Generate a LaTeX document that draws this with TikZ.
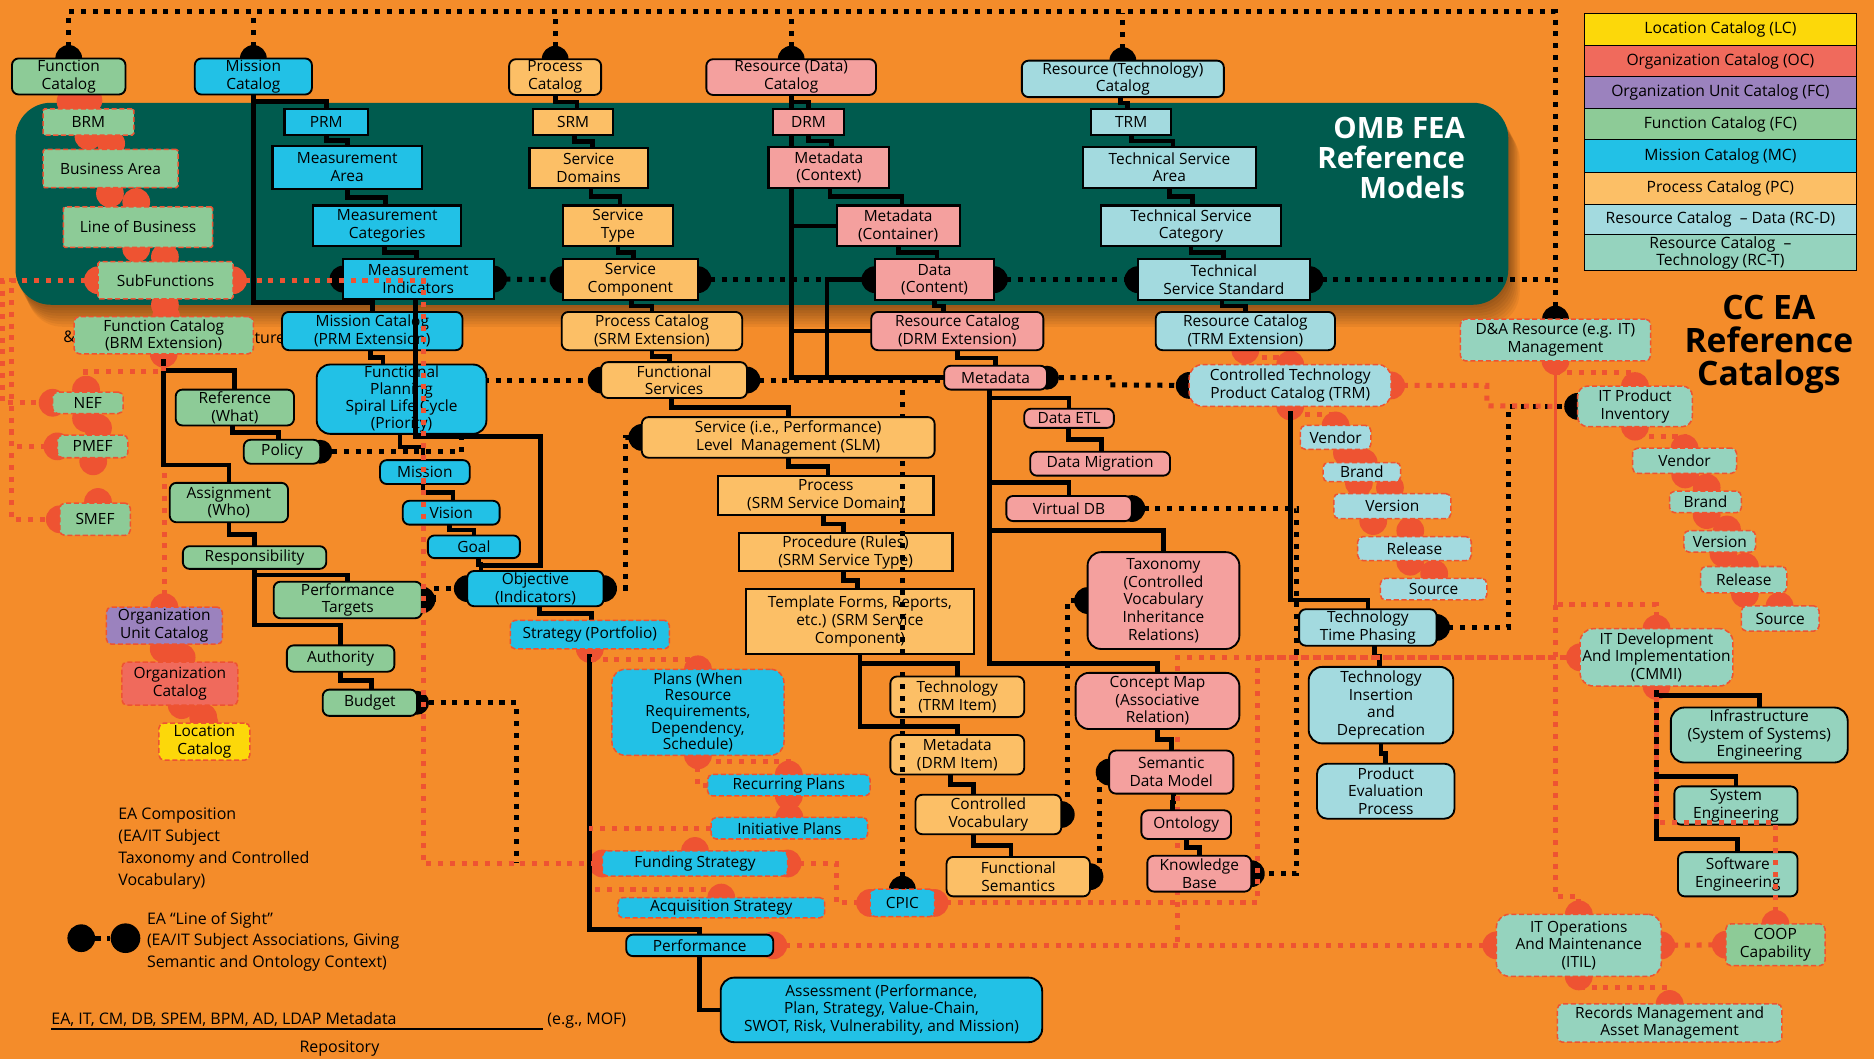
\documentclass[tikz,border=0pt]{standalone}
\usepackage{fontspec}
\setmainfont{Open Sans}
\usetikzlibrary{calc}

\definecolor{bgor}{HTML}{F48C2A}
\definecolor{cteal}{HTML}{005B4E}
\definecolor{cred}{HTML}{EE5332}
\definecolor{cfg}{HTML}{8DCB97}
\definecolor{cmb}{HTML}{22C1E6}
\definecolor{cpo}{HTML}{FCBF66}
\definecolor{cdp}{HTML}{F4A09E}
\definecolor{ctc}{HTML}{A3DADF}
\definecolor{cmt}{HTML}{95D3BE}
\definecolor{cye}{HTML}{FCD80A}
\definecolor{coc}{HTML}{F06A5C}
\definecolor{cpu}{HTML}{9B82BE}

\pgfdeclarelayer{bg}
\pgfdeclarelayer{links}
\pgfdeclarelayer{over}
\pgfsetlayers{bg,links,main,over}

\tikzset{
  base/.style={inner sep=1pt, outer sep=0pt, align=center, text=black,
    font=\fontsize{9.2}{10.5}\selectfont},
  fea/.style={base, draw=black, line width=1.3pt},
  cat/.style={base, draw=black, line width=1.1pt, rounded corners=4pt},
  dsh/.style={base, draw=cred, line width=0.9pt, dash pattern=on 3pt off 1.6pt, rounded corners=3pt},
  legrow/.style={base, draw=black, line width=0.6pt, minimum width=5.675cm,
    font=\fontsize{9.3}{10}\selectfont},
  tl/.style={line width=2.8pt, black},
  bd/.style={line width=3pt, black, dash pattern=on 3pt off 4pt},
  rd/.style={line width=3pt, cred, dash pattern=on 3pt off 4pt},
  note/.style={inner sep=0pt, outer sep=0pt, align=left, text=black,
    font=\fontsize{9.5}{13}\selectfont},
}

% box from its corner pixels: [opts]{name}{style}{x1}{y1}{x2}{y2}{text}
\newcommand\mkbox[8][]{\node[#3,minimum width={(#6-#4)*0.025cm},minimum height={(#7-#5)*0.025cm},#1] (#2) at ({(#4+#6)/2},{(#5+#7)/2}) {#8};}
% stepped link from a fraction of the lower edge of one box to a fraction of the upper edge of another
\newcommand\stepline[4]{%
  \coordinate (sA) at ($(#1.south west)!#2!(#1.south east)$);
  \coordinate (sB) at ($(#3.north west)!#4!(#3.north east)$);
  \draw[tl] (sA) |- ($(sA)!0.5!(sB)$) -| (sB);}
\newcommand\redblob[1]{\fill[cred] (#1) circle[radius=0.29cm];}
\newcommand\blackdisc[1]{\fill[black] (#1) circle[radius=0.28cm];}

\begin{document}
\begin{tikzpicture}[x=0.025cm,y=-0.025cm]
\useasboundingbox (0,0) rectangle (1568,886);

\begin{pgfonlayer}{bg}
  \fill[bgor] (0,0) rectangle (1568,886);
  \foreach \k in {1,...,8}
    {\fill[black, opacity=0.05, rounded corners=21pt] ({13+1.2*\k},{86+2.3*\k}) rectangle ({1262+1.2*\k},{255+2.3*\k});}
  \fill[cteal, rounded corners=21pt] (13,86) rectangle (1262,255);
\end{pgfonlayer}

% ---------- titles ----------
\node[anchor=east, align=right, text=white, inner sep=0pt,
  font=\fontsize{17.5}{18}\selectfont\bfseries] (omb) at (1226,132) {OMB FEA\\Reference\\Models};
\node[align=center, text=black, inner sep=0pt,
  font=\fontsize{20}{19.5}\selectfont\bfseries] (ccea) at (1480,288) {CC EA\\Reference\\Catalogs};

% ---------- colour key ----------
\foreach \ya/\yb/\cl/\tx [count=\i] in {
  11/38/cye/{Location Catalog (LC)},
  38/64/coc/{Organization Catalog (OC)},
  64/91/cpu/{Organization Unit Catalog (FC)},
  91/117/cfg/{Function Catalog (FC)},
  117/144/cmb/{Mission Catalog (MC)},
  144/171/cpo/{Process Catalog (PC)},
  171/197/ctc/{Resource Catalog~ -- Data (RC-D)},
  197/226/cmt/{Resource Catalog~ --\\Technology (RC-T)}}
  {\node[legrow, fill=\cl, minimum height={(\yb-\ya)*0.025cm}] (leg\i) at (1439.5,{(\ya+\yb)/2}) {\tx};}

% ---------- catalogs on top ----------
\mkbox{fc}{cat,fill=cfg}{10}{50}{105}{78}{Function\\Catalog}
\mkbox{mc}{cat,fill=cmb}{163}{50}{261}{78}{Mission\\Catalog}
\mkbox{pc}{cat,fill=cpo}{426}{50}{503}{79}{Process\\Catalog}
\mkbox{rdc}{cat,fill=cdp}{591}{50}{733}{79}{Resource (Data)\\Catalog}
\mkbox{rtc}{cat,fill=ctc}{855}{51}{1024}{81}{Resource (Technology)\\Catalog}

% ---------- reference models ----------
\mkbox[rounded corners=1pt]{brm}{dsh,fill=cfg}{36}{91}{112}{113}{BRM}
\mkbox[rounded corners=1pt]{ba}{dsh,fill=cfg}{36}{125}{149}{157}{Business Area}
\mkbox[rounded corners=1pt]{lob}{dsh,fill=cfg}{53}{173}{178}{207}{Line of Business}
\mkbox[rounded corners=1pt]{sf}{dsh,fill=cfg}{82}{219}{195}{250}{SubFunctions}
\mkbox{fcx}{dsh,fill=cfg}{62}{265}{212}{296}{Function Catalog\\(BRM Extension)}

\mkbox{prm}{fea,fill=cmb}{238}{91}{308}{113}{PRM}
\mkbox{ma}{fea,fill=cmb}{228}{122}{353}{158}{Measurement\\Area}
\mkbox{mcat}{fea,fill=cmb}{262}{172}{386}{206}{Measurement\\Categories}
\mkbox{mi}{fea,fill=cmb}{287}{217}{413}{250}{Measurement\\Indicators}
\mkbox{mcx}{cat,fill=cmb}{236}{261}{387}{293}{Mission Catalog\\(PRM Extension)}

\mkbox{srm}{fea,fill=cpo}{446}{91}{513}{113}{SRM}
\mkbox{sd}{fea,fill=cpo}{443}{124}{542}{157}{Service\\Domains}
\mkbox{st}{fea,fill=cpo}{471}{172}{563}{206}{Service\\Type}
\mkbox{sc}{fea,fill=cpo}{471}{217}{584}{251}{Service\\Component}
\mkbox{pcx}{cat,fill=cpo}{470}{261}{621}{293}{Process Catalog\\(SRM Extension)}

\mkbox{drm}{fea,fill=cdp}{647}{91}{706}{113}{DRM}
\mkbox{mdc}{fea,fill=cdp}{643}{123}{744}{157}{Metadata\\(Context)}
\mkbox{mdk}{fea,fill=cdp}{700}{172}{803}{206}{Metadata\\(Container)}
\mkbox{dc}{fea,fill=cdp}{732}{217}{832}{251}{Data\\(Content)}
\mkbox{rcx}{cat,fill=cdp}{729}{261}{873}{293}{Resource Catalog\\(DRM Extension)}

\mkbox{trm}{fea,fill=ctc}{913}{91}{980}{113}{TRM}
\mkbox{tsa}{fea,fill=ctc}{906}{123}{1051}{157}{Technical Service\\Area}
\mkbox{tsc}{fea,fill=ctc}{921}{172}{1072}{206}{Technical Service\\Category}
\mkbox{tss}{fea,fill=ctc}{952}{217}{1096}{251}{Technical\\Service Standard}
\mkbox{tcx}{cat,fill=ctc}{967}{261}{1117}{293}{Resource Catalog\\(TRM Extension)}

% ---------- function / organization side ----------
\mkbox{nef}{dsh,fill=cfg}{44}{328}{103}{346}{NEF}
\mkbox{pmef}{dsh,fill=cfg}{48}{364}{107}{383}{PMEF}
\mkbox{smef}{dsh,fill=cfg}{50}{421}{109}{448}{SMEF}
\mkbox{ref}{cat,fill=cfg}{147}{326}{246}{356}{Reference\\(What)}
\mkbox{pol}{cat,fill=cfg}{204}{368}{268}{388}{Policy}
\mkbox{asg}{cat,fill=cfg}{142}{404}{241}{437}{Assignment\\(Who)}
\mkbox{resp}{cat,fill=cfg}{153}{457}{273}{476}{Responsibility}
\mkbox{pt}{cat,fill=cfg}{229}{488}{353}{516}{Performance\\Targets}
\mkbox{auth}{cat,fill=cfg}{240}{540}{330}{562}{Authority}
\mkbox{bud}{cat,fill=cfg}{270}{577}{349}{599}{Budget}
\mkbox{ouc}{dsh,fill=cpu}{89}{508}{186}{539}{Organization\\Unit Catalog}
\mkbox{oc}{dsh,fill=coc}{102}{554}{199}{590}{Organization\\Catalog}
\mkbox{lc}{dsh,fill=cye}{133}{605}{209}{636}{Location\\Catalog}

% ---------- mission side ----------
\mkbox[rounded corners=8pt,font=\fontsize{9.2}{10}\selectfont]{fp}{cat,fill=cmb}{265}{305}{407}{363}{Functional\\Planning\\Spiral Life Cycle\\(Priority)}
\mkbox{mis}{cat,fill=cmb}{318}{385}{393}{405}{Mission}
\mkbox{vis}{cat,fill=cmb}{337}{419}{418}{439}{Vision}
\mkbox{goal}{cat,fill=cmb}{358}{448}{435}{467}{Goal}
\mkbox{obj}{cat,fill=cmb}{391}{478}{505}{507}{Objective\\(Indicators)}
\mkbox{strat}{dsh,fill=cmb}{427}{519}{560}{543}{Strategy (Portfolio)}
\mkbox[rounded corners=8pt,font=\fontsize{9.2}{9.8}\selectfont]{plans}{dsh,fill=cmb}{512}{560}{656}{632}{Plans (When\\Resource\\Requirements,\\Dependency,\\Schedule)}
\mkbox{rp}{dsh,fill=cmb}{592}{648}{728}{666}{Recurring Plans}
\mkbox{ip}{dsh,fill=cmb}{595}{684}{726}{702}{Initiative Plans}
\mkbox{fs}{dsh,fill=cmb}{504}{712}{659}{733}{Funding Strategy}
\mkbox{as}{dsh,fill=cmb}{517}{751}{690}{768}{Acquisition Strategy}
\mkbox{perf}{cat,fill=cmb}{524}{782}{647}{800}{Performance}
\mkbox[rounded corners=8pt]{asmt}{cat,fill=cmb}{603}{818}{872}{872}{Assessment (Performance,\\Plan, Strategy, Value-Chain,\\SWOT, Risk, Vulnerability, and Mission)}
\mkbox{cpic}{dsh,fill=cmb}{728}{744}{782}{767}{CPIC}

% ---------- process side ----------
\mkbox{fsv}{cat,fill=cpo}{503}{303}{625}{333}{Functional\\Services}
\mkbox{slm}{cat,fill=cpo}{537}{349}{782}{383}{Service (i.e., Performance)\\Level\ \ Management (SLM)}
\mkbox{proc}{fea,fill=cpo}{601}{398}{781}{431}{Process\\(SRM Service Domain)}
\mkbox{pr}{fea,fill=cpo}{618}{446}{797}{478}{Procedure (Rules)\\(SRM Service Type)}
\mkbox{tf}{fea,fill=cpo}{624}{493}{815}{547}{Template Forms, Reports,\\etc.) (SRM Service\\Component)}
\mkbox{tech}{cat,fill=cpo}{745}{566}{857}{600}{Technology\\(TRM Item)}
\mkbox{mdi}{cat,fill=cpo}{745}{615}{857}{648}{Metadata\\(DRM Item)}
\mkbox{cv}{cat,fill=cpo}{766}{665}{888}{698}{Controlled\\Vocabulary}
\mkbox{fsem}{cat,fill=cpo}{792}{717}{912}{750}{Functional\\Semantics}

% ---------- data side ----------
\mkbox{md}{cat,fill=cdp}{790}{306}{876}{326}{Metadata}
\mkbox{etl}{cat,fill=cdp}{857}{342}{932}{358}{Data ETL}
\mkbox{mig}{cat,fill=cdp}{862}{378}{979}{398}{Data Migration}
\mkbox{vdb}{cat,fill=cdp}{842}{415}{947}{436}{Virtual DB}
\mkbox[rounded corners=8pt]{tax}{cat,fill=cdp}{910}{462}{1037}{543}{Taxonomy\\(Controlled\\Vocabulary\\Inheritance\\Relations)}
\mkbox[rounded corners=8pt]{cm}{cat,fill=cdp}{900}{563}{1037}{610}{Concept Map\\(Associative\\Relation)}
\mkbox{sdm}{cat,fill=cdp}{928}{628}{1032}{664}{Semantic\\Data Model}
\mkbox{ont}{cat,fill=cdp}{955}{678}{1030}{702}{Ontology}
\mkbox{kb}{cat,fill=cdp}{960}{716}{1047}{746}{Knowledge\\Base}

% ---------- technology side ----------
\mkbox[rounded corners=8pt]{ctpc}{dsh,fill=ctc}{995}{305}{1164}{340}{Controlled Technology\\Product Catalog (TRM)}
\mkbox{v1}{dsh,fill=ctc}{1088}{356}{1147}{376}{Vendor}
\mkbox{b1}{dsh,fill=ctc}{1107}{387}{1172}{403}{Brand}
\mkbox{ver1}{dsh,fill=ctc}{1116}{413}{1214}{434}{Version}
\mkbox{rel1}{dsh,fill=ctc}{1136}{449}{1231}{469}{Release}
\mkbox{src1}{dsh,fill=ctc}{1155}{484}{1244}{502}{Source}
\mkbox{ttp}{cat,fill=ctc}{1087}{510}{1202}{540}{Technology\\Time Phasing}
\mkbox[rounded corners=8pt]{tid}{cat,fill=ctc}{1095}{558}{1216}{622}{Technology\\Insertion\\and\\Deprecation}
\mkbox[rounded corners=6pt]{pep}{cat,fill=ctc}{1102}{639}{1217}{685}{Product\\Evaluation\\Process}

% ---------- IT management side ----------
\mkbox{da}{dsh,fill=cmt}{1222}{267}{1381}{302}{D\&A Resource (e.g. IT)\\Management}
\mkbox[rounded corners=6pt]{itp}{dsh,fill=cmt}{1320}{323}{1416}{357}{IT Product\\Inventory}
\mkbox{v2}{dsh,fill=cmt}{1366}{375}{1453}{396}{Vendor}
\mkbox{b2}{dsh,fill=cmt}{1397}{411}{1457}{429}{Brand}
\mkbox{ver2}{dsh,fill=cmt}{1409}{444}{1469}{462}{Version}
\mkbox{rel2}{dsh,fill=cmt}{1423}{474}{1495}{496}{Release}
\mkbox{src2}{dsh,fill=cmt}{1457}{507}{1522}{528}{Source}
\mkbox[rounded corners=8pt]{cmmi}{dsh,fill=cmt}{1322}{526}{1450}{574}{IT Development\\And Implementation\\(CMMI)}
\mkbox[rounded corners=8pt]{infra}{cat,fill=cmt}{1398}{592}{1546}{638}{Infrastructure\\(System of Systems)\\Engineering}
\mkbox{syse}{cat,fill=cmt}{1401}{658}{1504}{690}{System\\Engineering}
\mkbox{swe}{cat,fill=cmt}{1404}{713}{1504}{750}{Software\\Engineering}
\mkbox[rounded corners=8pt]{itil}{dsh,fill=cmt}{1252}{765}{1390}{817}{IT Operations\\And Maintenance\\(ITIL)}
\mkbox{coop}{dsh,fill=cfg}{1444}{773}{1527}{808}{COOP\\Capability}
\mkbox{rm}{dsh,fill=cmt}{1303}{840}{1491}{872}{Records Management and\\Asset Management}

% ---------- key at the bottom left ----------
\node[note, anchor=north west] (keyc) at (99,676) {EA Composition\\(EA/IT Subject\\Taxonomy and Controlled\\Vocabulary)};
\node[circle, fill=black, minimum size=0.58cm, inner sep=0pt] (lgA) at (68,785) {};
\node[circle, fill=black, minimum size=0.62cm, inner sep=0pt] (lgB) at (105,785) {};
\node[note, anchor=north west] (keys) at (123,763) {EA ``Line of Sight''\\(EA/IT Subject Associations, Giving\\Semantic and Ontology Context)};
\node[note, anchor=base west] (repo1) at (43,857) {EA, IT, CM, DB, SPEM, BPM, AD, LDAP Metadata};
\node[note, anchor=base west] (repo2) at (458,857) {(e.g., MOF)};
\node[note, anchor=base] (repo3) at (284,881) {Repository};
\draw[line width=0.7pt] (repo1.base west) ++(0,4) -- ++(411,0);

% ================= links behind the boxes =================
\begin{pgfonlayer}{links}
  % text partly hidden behind the BRM extension box
  \node[note] (amp) at (58,282) {\&};
  \node[note, anchor=west] (ture) at (213,283) {ture.};

  % --- red chain blobs ---
  \foreach \x/\y in {59/85,74/84,74/114,93/120,92/162,114/169,114/208,138/215,
                  138/255,139/265,72/326,72/350,82/358,78/386,82/420,
                  137/543,152/550,152/590,170/600,
                  1127/379,1141/387,1137/404,1163/408,1149/436,1180/444,1180/470,1200/480,
                  1410/397,1428/408,1428/431,1445/443,1442/463,1460/474,1460/497,1489/507}
    {\redblob{\x,\y}}
  \foreach \a in {sf.west,sf.east,fcx.south,nef.west,pmef.west,smef.west,ouc.north,lc.north,
                  strat.south,plans.north,plans.south,rp.north,rp.south,ip.north,fs.north,fs.west,fs.east,
                  as.north,perf.east,cpic.west,cpic.east,
                  tcx.south,ctpc.north,ctpc.east,ctpc.south,v1.north,
                  da.south,itp.north,itp.south,v2.north,cmmi.north,cmmi.west,cmmi.south,
                  itil.north,itil.west,itil.east,itil.south,coop.west,coop.north,rm.north}
    {\redblob{\a}}

  % --- black line-of-sight discs ---
  \foreach \a in {fc.north,mc.north,pc.north,rdc.north,rtc.north,da.north,
                  mi.west,mi.east,sc.west,sc.east,dc.west,dc.east,tss.west,tss.east,
                  fsv.west,fsv.east,slm.west,obj.west,obj.east,pt.east,
                  ctpc.west,vdb.east,tax.west,cv.east,fsem.east,sdm.west,kb.east,ttp.east,itp.west,cpic.north}
    {\blackdisc{\a}}
  \foreach \a in {pol.east,bud.east,md.east}
    {\fill[black] (\a) circle[radius=0.25cm];}

  % --- structural links ---
  \draw[tl] (mc.south) -- ++(0,6) -| (prm.north);
  \draw[tl] (mc.south) -- ++(0,174) -| (mcx.north);
  \stepline{prm}{0.5}{ma}{0.5}
  \stepline{ma}{0.5}{mcat}{0.49}
  \stepline{mcat}{0.48}{mi}{0.49}
  \stepline{pc}{0.5}{srm}{0.55}
  \stepline{srm}{0.52}{sd}{0.53}
  \stepline{sd}{0.52}{st}{0.52}
  \stepline{st}{0.5}{sc}{0.52}
  \stepline{sc}{0.51}{pcx}{0.5}
  \stepline{rdc}{0.5}{drm}{0.5}
  \stepline{drm}{0.5}{mdc}{0.52}
  \stepline{mdc}{0.51}{mdk}{0.53}
  \stepline{mdk}{0.5}{dc}{0.52}
  \stepline{dc}{0.5}{rcx}{0.42}
  \stepline{rcx}{0.5}{md}{0.5}
  \draw[tl] (rdc.south) |- (md.west);
  \draw[tl] (rdc.south |- mdk.west) -- (mdk.west);
  \draw[tl] (rdc.south |- rcx.west) -- (rcx.west);
  \draw[tl] (dc.west) -- ++(-40,0) |- (md.west);
  \stepline{rtc}{0.49}{trm}{0.45}
  \stepline{trm}{0.5}{tsa}{0.52}
  \stepline{tsa}{0.5}{tsc}{0.51}
  \stepline{tsc}{0.5}{tss}{0.5}
  \stepline{tss}{0.49}{tcx}{0.5}

  \draw[tl] (fcx.south) -- ++(0,14) -| (ref.north);
  \draw[tl] (fcx.south) -- ++(0,93) -| (asg.north);
  \stepline{ref}{0.48}{pol}{0.45}
  \stepline{asg}{0.5}{resp}{0.5}
  \draw[tl] (resp.south) -- ++(0,47) -| (auth.north);
  \draw[tl] (resp.south) -- ++(0,5) -| (pt.north);
  \stepline{auth}{0.5}{bud}{0.52}

  \stepline{mcx}{0.49}{fp}{0.39}
  \stepline{fp}{0.49}{mis}{0.48}
  \stepline{mis}{0.48}{vis}{0.52}
  \stepline{vis}{0.48}{goal}{0.5}
  \stepline{goal}{0.55}{obj}{0.1}
  \stepline{obj}{0.53}{strat}{0.51}
  \draw[tl] (strat.south) -- ++(0,235) -| (perf.north);
  \draw[tl] (perf.south) |- (asmt.west);

  \stepline{pcx}{0.5}{fsv}{0.47}
  \stepline{fsv}{0.48}{slm}{0.5}
  \stepline{slm}{0.5}{proc}{0.51}
  \stepline{proc}{0.49}{pr}{0.49}
  \stepline{pr}{0.49}{tf}{0.49}
  \draw[tl] (tf.south) -- ++(0,8) -| (tech.north);
  \draw[tl] (tf.south) -- ++(0,61) -| (mdi.north);
  \stepline{mdi}{0.45}{cv}{0.4}
  \stepline{cv}{0.4}{fsem}{0.45}

  \coordinate (mdb) at ($(md.south west)!0.44!(md.south east)$);
  \draw[tl] (mdb) -- ++(0,229) -| (cm.north);
  \draw[tl] (mdb) ++(0,7) -| (etl.north);
  \draw[tl] (mdb) ++(0,78) -| (vdb.north);
  \draw[tl] (mdb) ++(0,118) -| (tax.north);
  \stepline{etl}{0.49}{mig}{0.51}
  \stepline{cm}{0.5}{sdm}{0.5}
  \stepline{sdm}{0.52}{ont}{0.35}
  \stepline{ont}{0.5}{kb}{0.5}

  \draw[tl] (ctpc.south) -- ++(0,162) -| (ttp.north);
  \stepline{ttp}{0.55}{tid}{0.49}
  \stepline{tid}{0.5}{pep}{0.5}

  \draw[tl] (cmmi.south) -- ++(0,128) -| (swe.north);
  \draw[tl] (cmmi.south) ++(0,8) -| (infra.north);
  \draw[tl] (cmmi.south) ++(0,76) -| (syse.north);

  % --- line of sight (black dots) ---
  \draw[bd] (fc.north) -- ++(0,-39) -| (da.north);
  \foreach \a in {mc,pc,rdc} {\draw[bd] (\a.north) -- ++(0,-39);}
  \draw[bd] (rtc.north) -- ++(0,-40);
  \draw[bd] (mi.east) -- (sc.west);
  \draw[bd] (sc.east) -- (dc.west);
  \draw[bd] (dc.east) -- (tss.west);
  \draw[bd] (tss.east) -- (tss.east -| da.north);
  \draw[bd] (pol.east) -- ++(118,0) |- (fsv.west);
  \draw[bd] (fsv.east) -- (md.west |- fsv.east);
  \draw[bd] (cpic.north) -- (cpic.north |- fsv.east);
  \draw[bd] (slm.west) -- ++(-14,0) |- (obj.east);
  \draw[bd] (pt.east) -- ++(10,0) |- (obj.west);
  \draw[bd] (bud.east) -- ++(83,0) -- ++(0,134);
  \draw[bd] (md.east) -- ++(52,0) -- ++(0,6) -- (ctpc.west);
  \draw[bd] (vdb.east) -- ++(138,0) |- (kb.east);
  \draw[bd] (cv.east) -- ++(5,0) |- (tax.west);
  \draw[bd] (fsem.east) -- ++(8,0) |- (sdm.west);
  \draw[bd] (ttp.east) -- ++(60,0) |- (itp.west);
  \draw[bd] (lgA) -- (lgB);

  % --- composition (red dots) ---
  \draw[rd] (sf.west) -- ++(-72,0) |- (smef.west);
  \draw[rd] (pmef.west) -- ++(-38,0);
  \draw[rd] (sf.west) -- ++(-80,0) |- (nef.west);
  \draw[rd] (fcx.south) -- ++(0,15) -| ($(nef.north west)!0.47!(nef.north east)$);
  \draw[rd] (ouc.north) -- ++(0,-115);
  \draw[rd] (strat.south) -- ++(0,9) -| (plans.north);
  \draw[rd] (plans.south) |- (rp.west);
  \draw[rd] (plans.south) -- ++(0,5) -| (rp.north);
  \draw[rd] (rp.south) -- (ip.north);
  \draw[rd] (ip.west) -- ++(-102,0);
  \draw[rd] (as.north) -- ++(0,-7) -- ++(-110,0);
  \draw[rd] (fs.east) -- ++(41,0) |- (cpic.west);
  \draw[rd] (cpic.east) -- ++(270,0) |- (cmmi.west);
  \draw[rd] (cmmi.west) -- ++(-337,0) -- ++(0,241);
  \draw[rd] (perf.east) -- (itil.west);
  \draw[rd] (ctpc.east) -- ++(80,0) -- ++(0,17) -- (da.south |- itp.west);
  \draw[cred, line width=2pt] (da.south) -- ++(0,204);
  \draw[rd] (da.south) ++(0,204) -- ++(0,244) -| (itil.north);
  \draw[rd] (cmmi.north) -- ++(0,-20) -- ++(-85,0);
  \draw[rd] (da.south) -- ++(0,10) -| (itp.north);
  \draw[rd] (itil.east) -- (coop.west);
  \draw[rd] (itil.south) -- ++(0,9) -| (rm.north);
  \draw[rd] (ctpc.south) -- ++(0,7) -| (v1.north);
  \draw[rd] (itp.south) -- ++(0,8) -| (v2.north);
  \draw[rd] (tcx.south) -- ++(0,6) -| (ctpc.north);
\end{pgfonlayer}

% ================= links drawn over the boxes =================
\begin{pgfonlayer}{over}
  \coordinate (objin) at ($(obj.north west)!0.1!(obj.north east)$);
  \draw[tl] ($(mi.south west)!0.48!(mi.south east)$) -- ++(0,115) -- ++(105,0) -- ++(0,108) -| (objin);
  \draw[rd] (sf.east) -- ++(159,0) -- ++(0,488) -- (fs.west);
  \draw[bd] (cpic.north) -- (cpic.north |- slm.south);
  \draw[rd] (coop.north) -- ++(0,-85) -| (cmmi.south);
\end{pgfonlayer}
\end{tikzpicture}
\end{document}
